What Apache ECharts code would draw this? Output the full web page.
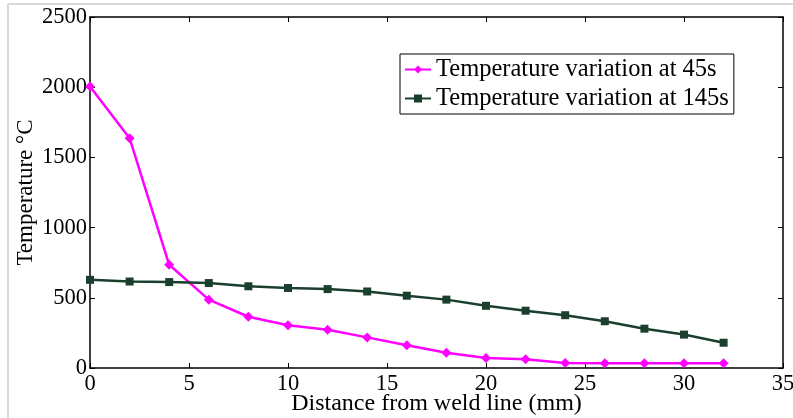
<!DOCTYPE html>
<html><head><meta charset="utf-8">
<script src="https://cdn.jsdelivr.net/npm/echarts@6/dist/echarts.min.js"></script>
<style>html,body{margin:0;padding:0;background:#fff}#c{width:793px;height:418px}</style>
</head><body><div id="c"></div>
<script>
const distances = [0,2,4,6,8,10,12,14,16,18,20,22,24,26,28,30,32];
const temp45 = [2005,1637,735,487,365,305,272,218,162,108,72,62,35,33,33,33,33];
const temp145 = [628,616,612,605,582,570,562,545,515,487,443,408,376,333,280,238,180];
const seriesNames = ['Temperature variation at 45s','Temperature variation at 145s'];
const xTicks = [0,5,10,15,20,25,30,35];
const yTicks = [0,500,1000,1500,2000,2500];

const font = 'Liberation Serif';
const chart = echarts.init(document.getElementById('c'));
const axisCommon = {
  axisLine:{show:true,onZero:false,lineStyle:{color:'#000',width:1.5}},
  axisTick:{show:true,inside:true,length:5,lineStyle:{color:'#000',width:1}},
  splitLine:{show:false}
};
chart.setOption({
  backgroundColor:'#fff',
  animation:false,
  graphic:[
    {type:'line',shape:{x1:8,y1:4,x2:793,y2:4},style:{stroke:'#d8d8d8',lineWidth:2},silent:true},
    {type:'line',shape:{x1:8,y1:4,x2:8,y2:418},style:{stroke:'#d8d8d8',lineWidth:2},silent:true}
  ],
  grid:{left:90,right:10,top:17,bottom:50,containLabel:false,outerBoundsMode:'none'},
  legend:{
    data:seriesNames, orient:'vertical', left:400, top:54,
    backgroundColor:'#fff', borderColor:'#000', borderWidth:1, borderRadius:0,
    padding:[3,5,3,4], itemGap:4, itemWidth:26, itemHeight:10,
    textStyle:{fontFamily:font,fontSize:24.5,color:'#000'}
  },
  xAxis:[
    Object.assign({type:'value',min:0,max:35,interval:5,position:'bottom',
      name:'Distance from weld line (mm)',nameLocation:'middle',nameGap:24,nameMoveOverlap:false,
      nameTextStyle:{fontFamily:font,fontSize:24,color:'#000'},
      axisLabel:{fontFamily:font,fontSize:22.5,color:'#000',margin:5,
        formatter:v=>xTicks.includes(v)?String(v):''}},axisCommon),
    Object.assign({type:'value',min:0,max:35,interval:5,position:'top',
      axisLabel:{show:false}},axisCommon)
  ],
  yAxis:[
    Object.assign({type:'value',min:0,max:2500,interval:500,position:'left',
      name:'Temperature °C',nameLocation:'middle',nameGap:53,nameMoveOverlap:false,
      nameTextStyle:{fontFamily:font,fontSize:23,color:'#000'},
      axisLabel:{fontFamily:font,fontSize:22.5,color:'#000',margin:3,
        formatter:v=>yTicks.includes(v)?String(v):''}},axisCommon),
    Object.assign({type:'value',min:0,max:2500,interval:500,position:'right',
      axisLabel:{show:false}},axisCommon)
  ],
  series:[
    {name:seriesNames[0],type:'line',data:distances.map((d,i)=>[d,temp45[i]]),
      symbol:'diamond',symbolSize:10,color:'#ff00ff',
      lineStyle:{width:2.5,color:'#ff00ff'},itemStyle:{color:'#ff00ff'}},
    {name:seriesNames[1],type:'line',data:distances.map((d,i)=>[d,temp145[i]]),
      symbol:'rect',symbolSize:8,color:'#1a3f2c',
      lineStyle:{width:2.5,color:'#1a3f2c'},itemStyle:{color:'#1a3f2c'}}
  ]
});
</script></body></html>
